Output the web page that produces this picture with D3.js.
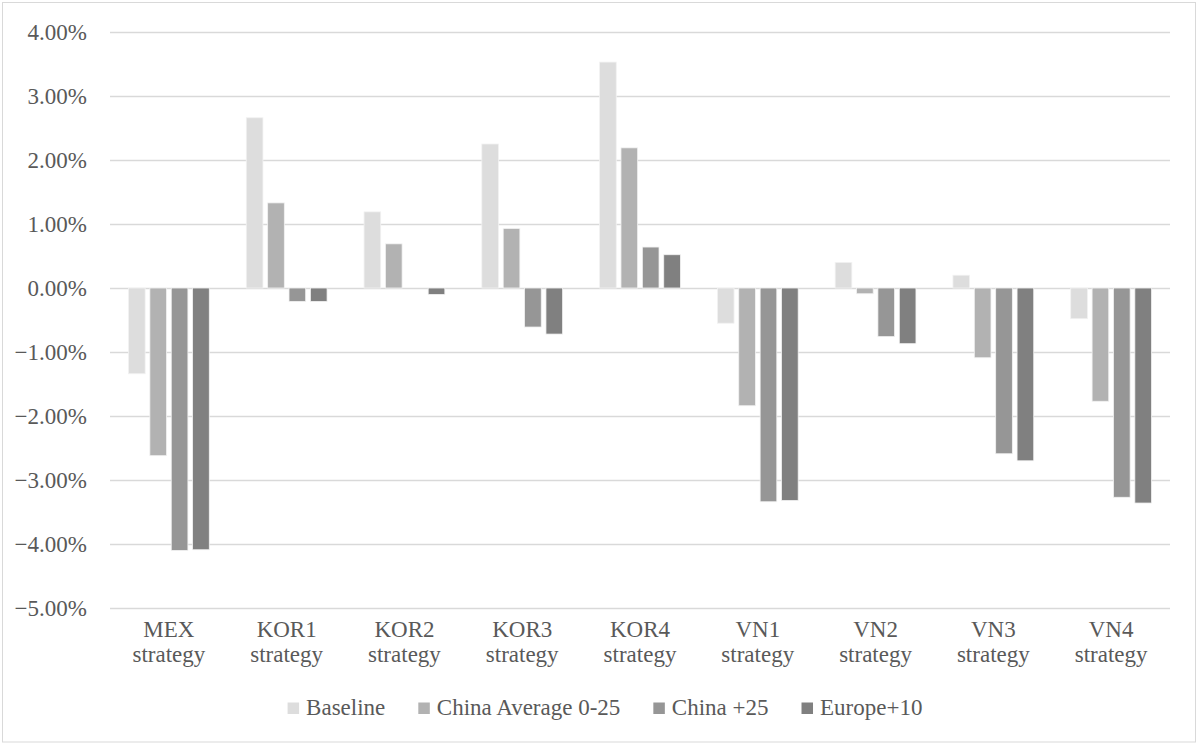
<!DOCTYPE html>
<html>
<head>
<meta charset="utf-8">
<script src="https://cdn.jsdelivr.net/npm/d3@7"></script>
<style>
  html, body { margin: 0; padding: 0; background: #fff; }
  svg { display: block; }
  svg text { font-family: "Liberation Serif", Tinos, "DejaVu Serif", "Noto Serif", serif; fill: #595959; }
</style>
</head>
<body>
<svg id="chart" width="1198" height="744"></svg>
<script>
// Strategy categories (two-line labels)
const categories = ["MEX strategy", "KOR1 strategy", "KOR2 strategy", "KOR3 strategy",
                    "KOR4 strategy", "VN1 strategy", "VN2 strategy", "VN3 strategy", "VN4 strategy"];

const seriesNames = ["Baseline", "China Average 0-25", "China +25", "Europe+10"];

// Percent change per strategy, one array per scenario
const baseline      = [-1.34, 2.66, 1.19, 2.25, 3.53, -0.55, 0.40, 0.20, -0.48];
const chinaAverage  = [-2.62, 1.33, 0.69, 0.93, 2.19, -1.84, -0.09, -1.09, -1.77];
const chinaPlus25   = [-4.10, -0.21, 0.00, -0.61, 0.64, -3.34, -0.76, -2.59, -3.27];
const europePlus10  = [-4.09, -0.21, -0.10, -0.72, 0.52, -3.32, -0.87, -2.70, -3.36];

const yTicks = [4, 3, 2, 1, 0, -1, -2, -3, -4, -5];

const seriesValues = [baseline, chinaAverage, chinaPlus25, europePlus10];
const colors = ["#dddddd", "#b2b2b2", "#969696", "#808080"];

const FONT = '"Liberation Serif", Tinos, "DejaVu Serif", "Noto Serif", serif';
const FS = "23px";

const svg = d3.select("#chart");
const W = 1198, H = 744;

// Outer chart frame
svg.append("rect")
  .attr("x", 2.5).attr("y", 2.5)
  .attr("width", W - 5).attr("height", H - 4.5)
  .attr("fill", "#fff").attr("stroke", "#d9d9d9").attr("stroke-width", 1);

const plot = { left: 110, right: 1170, top: 32, bottom: 608 };

const y = d3.scaleLinear().domain([-5, 4]).range([plot.bottom, plot.top]);

const x0 = d3.scaleBand().domain(categories).range([plot.left, plot.right]).padding(0);
const inset = x0.bandwidth() * 0.157;
const x1 = d3.scaleBand().domain(seriesNames)
  .range([inset, x0.bandwidth() - inset]).paddingInner(0.22).paddingOuter(0);

// Horizontal gridlines
svg.append("g")
  .selectAll("line")
  .data(yTicks)
  .join("line")
  .attr("x1", plot.left).attr("x2", plot.right)
  .attr("y1", d => Math.round(y(d)) + 0.5).attr("y2", d => Math.round(y(d)) + 0.5)
  .attr("stroke", "#d9d9d9").attr("stroke-width", 1.3);

// Y axis labels
const yAxis = d3.axisLeft(y).tickValues(yTicks)
  .tickFormat(d => d3.format(".2f")(d) + "%").tickSize(0).tickPadding(23);
const gy = svg.append("g").attr("transform", `translate(${plot.left},0)`).call(yAxis)
  .attr("font-family", null).attr("font-size", null);
gy.select(".domain").remove();
gy.selectAll("text")
  .style("font-family", FONT)
  .style("font-size", FS).style("fill", "#595959");

// Bars
const rows = categories.map((c, i) => ({ cat: c, vals: seriesNames.map((s, j) => ({ s, j, v: seriesValues[j][i] })) }));

svg.append("g")
  .selectAll("g")
  .data(rows)
  .join("g")
  .attr("transform", d => `translate(${x0(d.cat)},0)`)
  .selectAll("rect")
  .data(d => d.vals)
  .join("rect")
  .attr("x", d => x1(d.s))
  .attr("width", x1.bandwidth())
  .attr("y", d => y(Math.max(0, d.v)))
  .attr("height", d => Math.abs(y(d.v) - y(0)))
  .attr("fill", d => colors[d.j])
  .attr("stroke", "#f2f2f2").attr("stroke-width", 0.8);

// Category labels (two lines)
const xl = svg.append("g");
categories.forEach(c => {
  const parts = c.split(" ");
  const cxp = x0(c) + x0.bandwidth() / 2;
  const t = xl.append("text")
    .attr("x", cxp)
    .attr("y", 637)
    .attr("text-anchor", "middle")
    .style("font-family", FONT)
    .style("font-size", FS);
  t.append("tspan").attr("x", cxp).attr("dy", 0).text(parts[0]);
  t.append("tspan").attr("x", cxp).attr("dy", 25).text(parts[1]);
});

// Legend
const legend = svg.append("g");
const GAP = 33;
let cx = 0;
seriesNames.forEach((s, i) => {
  const g = legend.append("g");
  g.append("rect").attr("x", cx).attr("y", -12.5).attr("width", 11.5).attr("height", 11.5).attr("fill", colors[i]);
  const t = g.append("text").attr("x", cx + 18.5).attr("y", 0)
    .style("font-family", FONT).style("font-size", FS).text(s);
  const w = t.node().getComputedTextLength();
  cx += 18.5 + w + GAP;
});
const totalW = cx - GAP;
legend.attr("transform", `translate(${605 - totalW / 2},715)`);
</script>
</body>
</html>
